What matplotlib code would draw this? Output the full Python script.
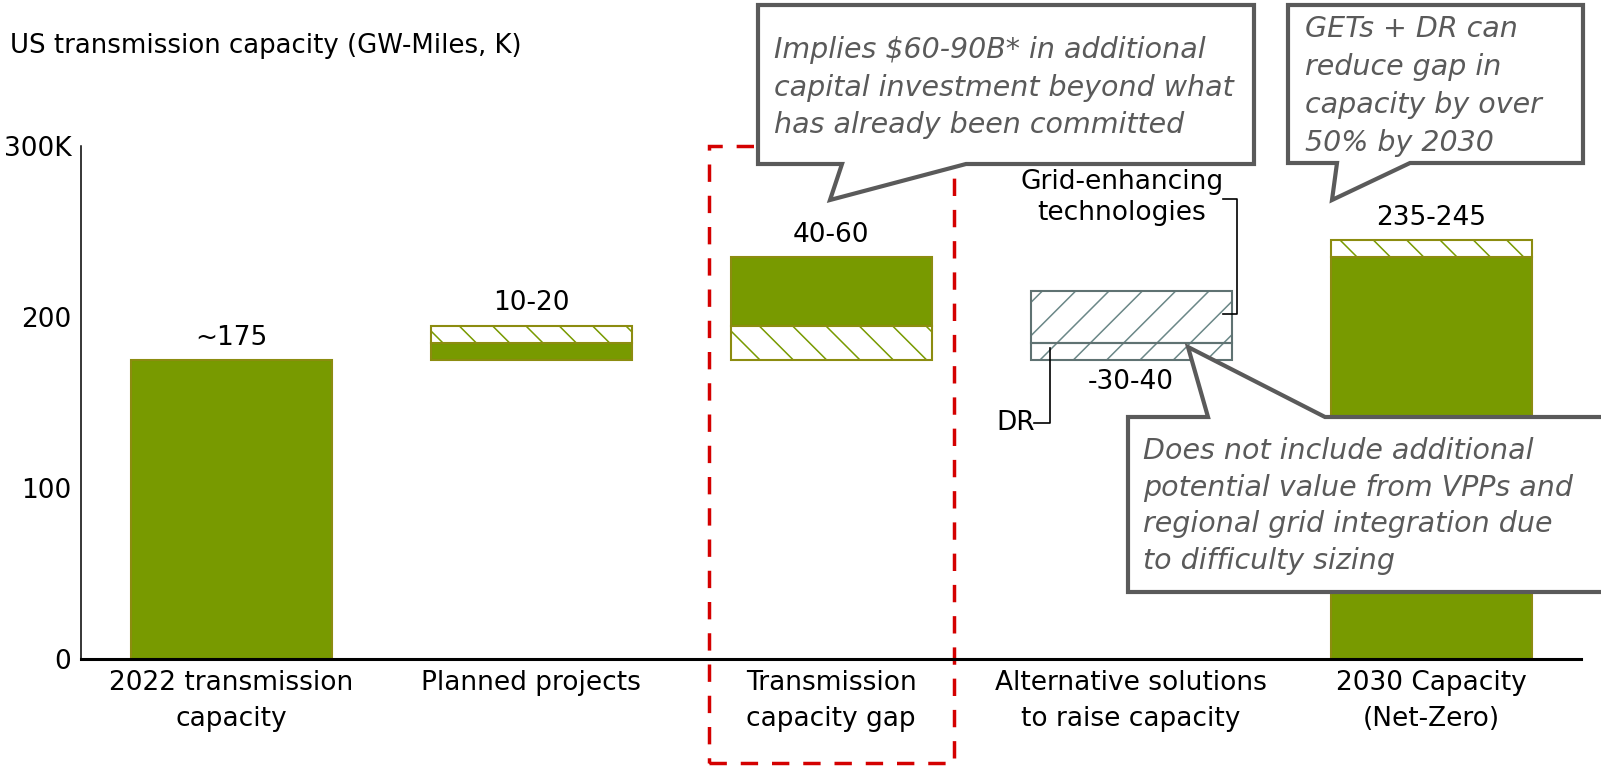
import matplotlib
matplotlib.use('Agg')
import numpy as np
import matplotlib.pyplot as plt
from matplotlib.patches import Polygon, Rectangle

plt.rcParams['font.family'] = ['DejaVu Sans']
plt.rcParams['hatch.linewidth'] = 1.1

# data (GW-miles, thousands)
categories = ['2022 transmission\ncapacity', 'Planned projects', 'Transmission\ncapacity gap',
              'Alternative solutions\nto raise capacity', '2030 Capacity\n(Net-Zero)']
value_labels = ['~175', '10-20', '40-60', '-30-40', '235-245']

solid_idx = [0, 1, 2, 4]
solid_bottom = [0, 175, 195, 0]
solid_height = [175, 10, 40, 235]

hatch_idx = [1, 2, 4]
hatch_bottom = [185, 175, 235]
hatch_height = [10, 20, 10]

alt_names = ['DR', 'Grid-enhancing\ntechnologies']
alt_bottom = [175, 185]
alt_height = [10, 30]

yticks = [0, 100, 200, 300]
ytick_labels = ['0', '100', '200', '300K']

W, H = 1601, 771
green = '#789a00'
olive = '#8c8c10'
gray_hatch = '#6b8787'
gray_edge = '#5f7272'
note_gray = '#5a5a5a'
fs = 19

fig = plt.figure(figsize=(W / 100, H / 100), dpi=100)
ax = fig.add_axes([81 / W, 1 - 659 / H, 1500 / W, 513 / H])
x = np.arange(len(categories))
bw = 0.67

# solid parts
ax.bar(solid_idx, solid_height, bottom=solid_bottom, width=bw, color=green,
       edgecolor=olive, linewidth=1.5, zorder=2)
# hatched parts (hatch drawn in edge color, outline added on top)
ax.bar(hatch_idx, hatch_height, bottom=hatch_bottom, width=bw, color='white',
       edgecolor=green, hatch='\\', linewidth=0, zorder=2)
ax.bar(hatch_idx, hatch_height, bottom=hatch_bottom, width=bw, fill=False,
       edgecolor=olive, linewidth=1.5, zorder=3)
# alternative solutions
ax.bar([3, 3], alt_height, bottom=alt_bottom, width=bw, color='white',
       edgecolor=gray_hatch, hatch='/', linewidth=0, zorder=2)
ax.bar([3, 3], alt_height, bottom=alt_bottom, width=bw, fill=False,
       edgecolor=gray_edge, linewidth=1.5, zorder=3)

# value labels
tops = [175, 195, 235, None, 245]
for i, lab in enumerate(value_labels):
    if tops[i] is None:
        ax.annotate(lab, (3, alt_bottom[0]), xytext=(0, -16), textcoords='offset points',
                    ha='center', va='center', fontsize=fs)
    else:
        ax.annotate(lab, (i, tops[i]), xytext=(0, 16), textcoords='offset points',
                    ha='center', va='center', fontsize=fs)

# DR / GETs labels with brackets
ax.text(2.97, 270, alt_names[1], ha='center', va='center', fontsize=fs, linespacing=1.25)
ax.plot([3.307, 3.353, 3.353, 3.307], [269, 269, 202, 202], color='black', lw=1.2,
        clip_on=False, zorder=4)
ax.text(2.617, 138, alt_names[0], ha='center', va='center', fontsize=fs)
ax.plot([2.677, 2.73, 2.73], [138, 138, 182], color='black', lw=1.2, clip_on=False, zorder=4)

# axes styling
ax.set_xlim(-0.5, 4.5)
ax.set_ylim(0, 300)
ax.set_xticks(x)
ax.set_xticklabels(categories, fontsize=fs, linespacing=1.48)
ax.set_yticks(yticks)
ax.set_yticklabels(ytick_labels, fontsize=fs)
ax.tick_params(axis='both', length=0)
ax.tick_params(axis='y', pad=7)
ax.tick_params(axis='x', pad=8)
for s in ['top', 'right']:
    ax.spines[s].set_visible(False)
ax.spines['left'].set_linewidth(1.1)
ax.spines['bottom'].set_linewidth(2.2)

# red dashed highlight around the gap
ax.add_patch(Rectangle((0.4187, -0.2027), 0.582 - 0.4187, 1.2027, transform=ax.transAxes,
                       fill=False, edgecolor='#d40000', lw=2.5, linestyle=(0, (5, 4)),
                       clip_on=False, zorder=1))

fig.text(10 / W, 1 - 46 / H, 'US transmission capacity (GW-Miles, K)', fontsize=fs - 0.3,
         va='center', ha='left')


def callout(verts, lines, tx, ty_list):
    pts = [(px / W, 1 - py / H) for px, py in verts]
    fig.patches.append(Polygon(pts, closed=True, transform=fig.transFigure,
                               facecolor='white', edgecolor=note_gray, lw=3,
                               joinstyle='miter', zorder=5))
    for line, ty in zip(lines, ty_list):
        fig.text(tx / W, 1 - ty / H, line, fontsize=20.5, style='italic', color=note_gray,
                 ha='left', va='center', zorder=6)


callout([(758, 5), (1254, 5), (1254, 164), (966, 164), (830, 200), (842, 164), (758, 164)],
        ['Implies $60-90B* in additional', 'capital investment beyond what',
         'has already been committed'],
        774, [50, 88, 125])
callout([(1288, 5), (1583, 5), (1583, 163), (1410, 163), (1332, 200), (1337, 163), (1288, 163)],
        ['GETs + DR can', 'reduce gap in', 'capacity by over', '50% by 2030'],
        1305, [29, 67, 105, 143])
callout([(1128, 417), (1208, 417), (1188, 347), (1325, 417), (1620, 417), (1620, 592),
         (1128, 592)],
        ['Does not include additional', 'potential value from VPPs and',
         'regional grid integration due', 'to difficulty sizing'],
        1143, [451, 488, 524, 561])

fig.savefig('out.png', dpi=100)
